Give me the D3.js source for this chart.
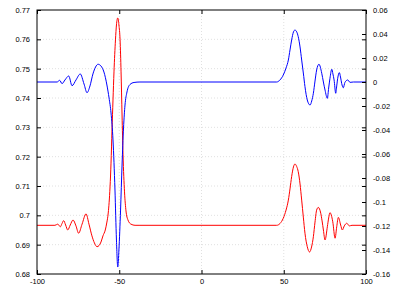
<!DOCTYPE html>
<html>
<head>
<meta charset="utf-8">
<script src="https://cdn.jsdelivr.net/npm/d3@7"></script>
<style>
  html, body { margin: 0; padding: 0; background: #fff; }
  svg { display: block; }
  text { font-family: "Liberation Sans", Arial, Helvetica, sans-serif; }
</style>
</head>
<body>
<svg id="chart" width="415" height="291"></svg>
<script>
// ---- data ----
const xTicks = [-100, -50, 0, 50, 100];
const leftTicks = [0.68, 0.69, 0.7, 0.71, 0.72, 0.73, 0.74, 0.75, 0.76, 0.77];
const rightTicks = [-0.16, -0.14, -0.12, -0.1, -0.08, -0.06, -0.04, -0.02, 0, 0.02, 0.04, 0.06];

// blue series (right axis)
const blueX = [-100, -87.8, -86.2, -84.8, -83.0, -80.7, -78.7, -76.3, -73.7, -71.4, -69.6, -67.8, -66.0, -64.4, -62.9,
  -61.1, -59.3, -57.5, -56.2, -55.0, -53.8, -52.6, -51.7, -50.9, -50.2, -49.2, -48.3, -47.4, -46.5, -45.3, -43.5, -41.0, -37.4,
  45.7, 47.7, 49.7, 51.4, 52.8, 53.8, 54.8, 55.9, 56.8, 57.9, 58.8, 59.9, 60.9, 61.9, 62.9, 64.3, 66.0, 67.0, 68.0, 69.0, 70.0,
  71.4, 73.1, 74.1, 75.1, 76.5, 77.3, 78.1, 79.2, 79.9, 80.6, 81.6, 82.2, 82.8, 83.8, 84.5, 85.2, 86.2, 87.2, 88.9, 90.3, 92.3, 100];
const blueY = [0, 0, 0.0014, -0.0014, 0.0017, 0.005, -0.0031, 0.0017, 0.0067, -0.0017, -0.0089, -0.0033, 0.0067, 0.0125, 0.0148,
  0.0133, 0.0083, -0.0025, -0.0133, -0.0258, -0.0483, -0.09, -0.1317, -0.1542, -0.14, -0.1067, -0.0692, -0.0383, -0.0192, -0.0083, -0.0021, -0.0004, 0,
  0, 0.0017, 0.0058, 0.0117, 0.0183, 0.0267, 0.035, 0.0417, 0.0433, 0.0417, 0.0378, 0.0292, 0.0183, 0.0075, -0.0039, -0.015, -0.0192, -0.0158, -0.0094, 0.0008, 0.01,
  0.0148, 0.0073, 0.0, -0.0067, -0.0136, -0.005, 0.0031, 0.0106, 0.0067, 0.0017, -0.0094, -0.0033, 0.0031, 0.0078, 0.0042, -0.0011, -0.0048, -0.0003, 0.0017, -0.0003, 0, 0];

// red series (left axis)
const redX = [-100, -89.1, -87.4, -85.8, -84.8, -83.8, -82.6, -81.3, -79.8, -78.1, -76.3, -74.7, -72.6, -70.2, -68.4, -66.6, -65.1, -63.5,
  -62.3, -61.1, -59.9, -58.5, -57.6, -56.7, -55.6, -55.0, -54.4, -53.8, -53.2, -52.3, -51.7, -50.9, -50.2, -49.5, -48.9, -48.3, -47.7, -46.8, -45.9, -44.7, -42.9, -40.4, -37.4,
  45.7, 47.7, 49.7, 51.4, 52.8, 53.8, 54.8, 55.9, 56.8, 57.9, 58.8, 59.9, 60.9, 61.9, 62.9, 64.3, 65.7, 66.9, 68.0, 69.0, 70.0, 71.0, 72.5, 73.3, 74.1, 75.1,
  76.5, 77.3, 78.1, 78.9, 79.8, 81.2, 82.2, 83.2, 84.6, 85.6, 86.8, 88.3, 89.9, 91.5, 100];
const redY = [0.6966, 0.6966, 0.697, 0.6961, 0.6972, 0.6982, 0.6967, 0.695, 0.6967, 0.6984, 0.6964, 0.6939, 0.697, 0.7005, 0.697, 0.693, 0.6906, 0.6893,
  0.6897, 0.6909, 0.693, 0.695, 0.6974, 0.7008, 0.7097, 0.7178, 0.7291, 0.7393, 0.7489, 0.7598, 0.7649, 0.7673, 0.7649, 0.7598, 0.7489, 0.7342, 0.7206, 0.708, 0.7015, 0.6984, 0.697, 0.6966, 0.6966,
  0.6966, 0.6972, 0.699, 0.7018, 0.7052, 0.709, 0.7132, 0.7165, 0.7175, 0.7166, 0.7149, 0.7107, 0.7052, 0.6994, 0.6939, 0.6893, 0.6875, 0.6892, 0.6927, 0.6977, 0.7018, 0.7027, 0.7007, 0.6981, 0.695, 0.6916,
  0.6961, 0.6991, 0.7009, 0.7001, 0.6978, 0.6922, 0.6961, 0.6993, 0.6967, 0.695, 0.6964, 0.6973, 0.6964, 0.6966, 0.6966];

// ---- layout ----
const L = 37, R = 366, T = 10, B = 274;
const svg = d3.select("#chart");
const x = d3.scaleLinear().domain([-100, 100]).range([L, R]);
const yL = d3.scaleLinear().domain([0.68, 0.77]).range([B, T]);
const yR = d3.scaleLinear().domain([-0.16, 0.06]).range([B, T]);
const fmt = d => String(+(+d).toFixed(2));

// grid
const grid = svg.append("g").attr("stroke", "#d8d8d8").attr("stroke-width", 0.8).attr("stroke-dasharray", "1,2");
grid.selectAll("line.h").data(leftTicks.slice(1, -1)).join("line")
  .attr("x1", L).attr("x2", R).attr("y1", d => yL(d)).attr("y2", d => yL(d));
grid.selectAll("line.v").data(xTicks.slice(1, -1)).join("line")
  .attr("y1", T).attr("y2", B).attr("x1", d => x(d)).attr("x2", d => x(d));

// lines
const line = (ys, sy) => d3.line().x((d, i) => x(d)).y((d, i) => sy(ys[i])).curve(d3.curveMonotoneX);
svg.append("path").attr("d", line(redY, yL)(redX)).attr("fill", "none").attr("stroke", "#ff0000").attr("stroke-width", 1);
svg.append("path").attr("d", line(blueY, yR)(blueX)).attr("fill", "none").attr("stroke", "#0000ff").attr("stroke-width", 1);

// axes
function styleAxis(g) {
  g.select(".domain").remove();
  g.selectAll(".tick line").attr("stroke", "#000");
  g.selectAll(".tick text").attr("fill", "#000").style("font-size", "7.5px")
    .style("font-family", '"Liberation Sans", Arial, sans-serif');
}
svg.append("g").attr("transform", `translate(${L},0)`)
  .call(d3.axisLeft(yL).tickValues(leftTicks).tickFormat(fmt).tickSize(-4).tickPadding(7)).call(styleAxis);
svg.append("g").attr("transform", `translate(${R},0)`)
  .call(d3.axisRight(yR).tickValues(rightTicks).tickFormat(fmt).tickSize(-4).tickPadding(7)).call(styleAxis);
svg.append("g").attr("transform", `translate(${R},0)`)
  .call(d3.axisRight(yL).tickValues(leftTicks).tickFormat("").tickSize(-4)).call(styleAxis);
svg.append("g").attr("transform", `translate(0,${B})`)
  .call(d3.axisBottom(x).tickValues(xTicks).tickFormat(fmt).tickSize(-4).tickPadding(5)).call(styleAxis);
svg.append("g").attr("transform", `translate(0,${T})`)
  .call(d3.axisTop(x).tickValues(xTicks).tickFormat("").tickSize(-4)).call(styleAxis);

// border
svg.append("rect").attr("x", L).attr("y", T).attr("width", R - L).attr("height", B - T)
  .attr("fill", "none").attr("stroke", "#000").attr("stroke-width", 1);
</script>
</body>
</html>
